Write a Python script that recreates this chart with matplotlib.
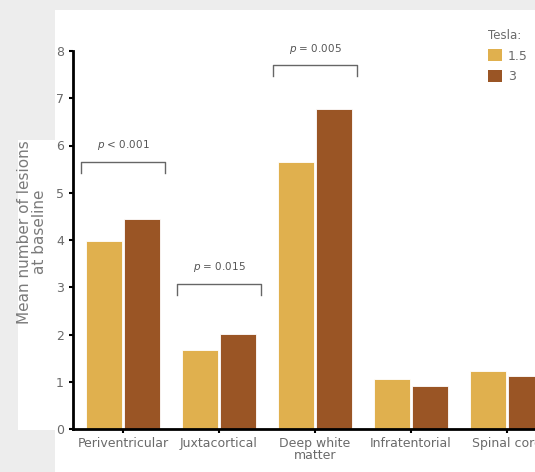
import matplotlib.pyplot as plt
import numpy as np
from matplotlib.patches import Rectangle, Patch

regions = ["Periventricular", "Juxtacortical", "Deep white\nmatter", "Infratentorial", "Spinal cord"]
tesla_15 = [3.98, 1.68, 5.65, 1.05, 1.22]
tesla_3 = [4.45, 2.02, 6.78, 0.92, 1.13]
pvals = ["p < 0.001", "p = 0.015", "p = 0.005"]
bracket_y = [5.65, 3.07, 7.7]

c15 = '#E0B04E'
c3 = '#9A5525'
grey = '#6a6a6a'
plt.rcParams['font.family'] = ['Liberation Sans Narrow', 'DejaVu Sans']

fig = plt.figure(figsize=(5.35, 4.72), dpi=100, facecolor='#ededed')
# white slide background
fig.patches.append(Rectangle((55/535, 0), 1, 462/472, transform=fig.transFigure,
                             facecolor='white', edgecolor='none', zorder=-10))
fig.patches.append(Rectangle((18/535, 42/472), 40/535, 290/472, transform=fig.transFigure,
                             facecolor='white', edgecolor='none', zorder=-10))

ax = fig.add_axes([73/535, 43/472, 462/535, 378/472])
ax.set_facecolor('none')
x = np.arange(len(regions))
w = 0.375
ax.bar(x - 0.195, tesla_15, w, color=c15, edgecolor='white', linewidth=0.6)
ax.bar(x + 0.195, tesla_3, w, color=c3, edgecolor='white', linewidth=0.6)

ax.set_xlim(-0.52, 4.29)
ax.set_ylim(0, 8)
ax.set_yticks(range(9))
ax.set_xticks(x)
ax.set_xticklabels(regions, fontsize=9, color=grey, linespacing=0.85)
ax.tick_params(axis='y', labelsize=9, labelcolor=grey, length=3, width=1.5)
ax.tick_params(axis='x', length=3, width=1.5, pad=3)
for s in ['top', 'right']:
    ax.spines[s].set_visible(False)
ax.spines['left'].set_linewidth(2)
ax.spines['bottom'].set_linewidth(2)

for i, (p, by) in enumerate(zip(pvals, bracket_y)):
    ax.plot([i - 0.44, i - 0.44, i + 0.44, i + 0.44], [by - 0.23, by, by, by - 0.23],
            color='#666666', lw=1.0, clip_on=False)
    sym, rest = p.split(' ', 1)
    ax.text(i, by + 0.35, r'$\it{p}$' + ' ' + rest, ha='center', va='center',
            fontsize=7.5, color='#555555', clip_on=False)

fig.text(32/535, 240/472, "Mean number of lesions\nat baseline", rotation=90,
         ha='center', va='center', fontsize=11, color='#7a7a7a', family='DejaVu Sans',
         linespacing=1.0, multialignment='center')

handles = [Patch(facecolor=c15), Patch(facecolor=c3)]
leg = fig.legend(handles, ['1.5', '3'], title='Tesla:', loc='upper left',
                 bbox_to_anchor=(479/535, 1 - 20/472), frameon=False, fontsize=9,
                 title_fontsize=8.5, handlelength=1.1, handleheight=1.1,
                 handletextpad=0.5, labelspacing=0.6, borderpad=0.2)
leg._legend_box.align = 'left'
for t in leg.get_texts():
    t.set_color(grey)
leg.get_title().set_color(grey)

fig.savefig('out.png', dpi=100, facecolor=fig.get_facecolor())
